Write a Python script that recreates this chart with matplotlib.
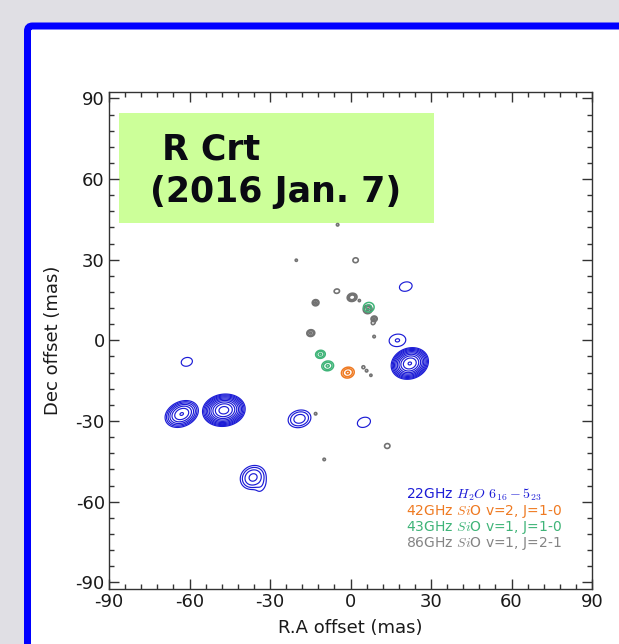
import numpy as np
import matplotlib
matplotlib.use("Agg")
import matplotlib.pyplot as plt
from matplotlib.patches import FancyBboxPatch, Rectangle

plt.rcParams["font.family"] = ["DejaVu Sans"]
plt.rcParams["mathtext.fontset"] = "cm"

# ---- maser spot components (offsets in mas, Gaussian widths in mas, PA in deg,
#      peak in units of the lowest contour level) ----
# 22 GHz H2O 6(16)-5(23)
h2o_x = [-62.9, -47.2, -36.3, -33.2, -19.0, 5.0, -61.0, 20.6, 17.5, 22.1]
h2o_y = [-27.4, -26.0, -51.0, -54.6, -29.2, -30.5, -8.0, 20.0, 0.0, -8.6]
h2o_sx = [2.24, 2.20, 2.30, 2.00, 2.24, 2.58, 2.17, 2.47, 2.55, 2.00]
h2o_sy = [1.59, 1.65, 2.00, 1.20, 1.67, 1.86, 1.65, 1.75, 1.89, 1.61]
h2o_pa = [25, 8, 30, 60, 15, 20, 15, 15, 8, 20]
h2o_peak = [67, 720, 10, 1.2, 6.3, 1.6, 1.6, 1.6, 2.1, 540]
h2o_group = [0, 1, 2, 2, 3, 4, 5, 6, 7, 8]

# 42 GHz SiO v=2, J=1-0
sio42_x = [-1.0]
sio42_y = [-12.0]
sio42_sx = [1.40]
sio42_sy = [1.16]
sio42_pa = [15]
sio42_peak = [4.4]

# 43 GHz SiO v=1, J=1-0
sio43_x = [-11.2, -8.5, 6.8]
sio43_y = [-5.2, -9.5, 12.3]
sio43_sx = [1.05, 1.28, 1.48]
sio43_sy = [0.87, 1.05, 1.33]
sio43_pa = [10, 10, 10]
sio43_peak = [4.4, 4.4, 2.5]

# 86 GHz SiO v=1, J=2-1
sio86_x = [-4.8, -20.2, 1.9, -5.1, 0.6, 3.3, -13.0, 6.4, 8.8, 8.5,
           -14.8, 8.8, 4.8, 6.0, 7.6, -13.0, 13.7, -9.8]
sio86_y = [43.0, 29.8, 29.8, 18.3, 16.0, 14.8, 14.0, 11.5, 8.0, 6.7,
           2.7, 1.4, -10.0, -11.3, -13.0, -27.3, -39.3, -44.3]
sio86_sx = [0.50, 0.45, 1.11, 1.11, 0.90, 0.45, 0.72, 0.95, 0.66, 1.00,
            0.85, 0.50, 0.60, 0.50, 0.45, 0.50, 0.85, 0.50]
sio86_sy = [0.50, 0.45, 1.00, 0.89, 0.74, 0.45, 0.66, 0.90, 0.60, 0.78,
            0.72, 0.50, 0.60, 0.50, 0.45, 0.50, 0.76, 0.50]
sio86_pa = [0, 0, 10, 10, 15, 0, 10, 10, 10, 60, 10, 0, 0, 0, 0, 0, 10, 0]
sio86_peak = [1.5, 1.5, 1.5, 1.5, 8.0, 1.5, 4.5, 4.5, 4.5, 1.5,
              4.5, 1.5, 1.5, 1.5, 1.5, 1.5, 2.0, 1.5]

legend_lines = [
    ("22GHz $H_2O$ $6_{16}-5_{23}$", "#1c1cd6"),
    ("42GHz $Si$O v=2, J=1-0", "#ef7a22"),
    ("43GHz $Si$O v=1, J=1-0", "#3fb478"),
    ("86GHz $Si$O v=1, J=2-1", "#848484"),
]
ticks = [-90, -60, -30, 0, 30, 60, 90]
title_lines = ["R Crt", "(2016 Jan. 7)"]


def draw_spots(ax, xs, ys, sxs, sys_, pas, peaks, color, lw, groups=None):
    """Contour each spot (or group of blended components) at doubling levels."""
    if groups is None:
        groups = list(range(len(xs)))
    for g in sorted(set(groups)):
        idx = [i for i, gg in enumerate(groups) if gg == g]
        reach = [4.0 * max(sxs[i], sys_[i]) + 0.5 for i in idx]
        x0 = min(xs[i] - r for i, r in zip(idx, reach))
        x1 = max(xs[i] + r for i, r in zip(idx, reach))
        y0 = min(ys[i] - r for i, r in zip(idx, reach))
        y1 = max(ys[i] + r for i, r in zip(idx, reach))
        gx, gy = np.meshgrid(np.linspace(x0, x1, 260), np.linspace(y0, y1, 260))
        field = np.zeros_like(gx)
        for i in idx:
            t = np.deg2rad(pas[i])
            dx, dy = gx - xs[i], gy - ys[i]
            u = dx * np.cos(t) + dy * np.sin(t)
            v = -dx * np.sin(t) + dy * np.cos(t)
            field += peaks[i] * np.exp(-0.5 * ((u / sxs[i]) ** 2 + (v / sys_[i]) ** 2))
        top = field.max()
        if top <= 1.0:
            continue
        nlev = int(np.floor(np.log2(top))) + 1
        levels = 2.0 ** np.arange(nlev)
        ax.contour(gx, gy, field, levels=levels, colors=color,
                   linewidths=lw, zorder=3)


W, H, DPI = 619, 644, 100
fig = plt.figure(figsize=(W / DPI, H / DPI), dpi=DPI)
fig.patch.set_facecolor("#e0dfe4")

# blue framed panel
frame = FancyBboxPatch((27.5, -60), 720, 618 + 60, boxstyle="round,pad=0,rounding_size=5",
                       transform=None, facecolor="white", edgecolor="#0000ff",
                       linewidth=7 * 72 / DPI, zorder=-10)
fig.patches.append(frame)

ax = fig.add_axes([109 / W, 1 - 589 / H, 483 / W, 497.3 / H])
ax.set_zorder(5)
ax.set_facecolor("white")
ax.set_xlim(-90, 90)
ax.set_ylim(-92.5, 92.5)

# title box
ax.add_patch(Rectangle((0.0207, 0.7366), 0.652, 0.2212, transform=ax.transAxes,
                       facecolor="#ccff99", edgecolor="none", zorder=1))
ax.text(0.109, 0.8627, title_lines[0], transform=ax.transAxes, fontsize=25,
        fontweight="bold", color="#0a0a12", ha="left", va="baseline", zorder=2)
ax.text(0.085, 0.7788, title_lines[1], transform=ax.transAxes, fontsize=25,
        fontweight="bold", color="#0a0a12", ha="left", va="baseline", zorder=2)

draw_spots(ax, h2o_x, h2o_y, h2o_sx, h2o_sy, h2o_pa, h2o_peak,
           legend_lines[0][1], 0.85, h2o_group)
draw_spots(ax, sio86_x, sio86_y, sio86_sx, sio86_sy, sio86_pa, sio86_peak,
           "#727272", 1.2)
draw_spots(ax, sio43_x, sio43_y, sio43_sx, sio43_sy, sio43_pa, sio43_peak,
           legend_lines[2][1], 1.1)
draw_spots(ax, sio42_x, sio42_y, sio42_sx, sio42_sy, sio42_pa, sio42_peak,
           legend_lines[1][1], 1.1)

# line identifications
for k, (txt, col) in enumerate(legend_lines):
    ax.text(0.614, 0.189 - 0.0322 * k, txt, transform=ax.transAxes, fontsize=10,
            color=col, ha="left", va="center", zorder=4)

ax.set_xticks(ticks)
ax.set_yticks(ticks)
ax.set_xticks(np.arange(-90, 91, 6), minor=True)
ax.set_yticks(np.arange(-90, 91, 6), minor=True)
ax.set_xticklabels([str(t) for t in ticks])
ax.set_yticklabels([str(t) for t in ticks])
ax.tick_params(which="both", direction="in", top=True, right=True,
               color="#333333", width=1.0)
ax.tick_params(which="major", length=7, labelsize=13, labelcolor="#1a1a1a", pad=3)
ax.tick_params(which="minor", length=3.5)
for s in ax.spines.values():
    s.set_color("#333333")
    s.set_linewidth(1.0)

ax.set_xlabel("R.A offset (mas)", fontsize=13, color="#1a1a1a")
ax.set_ylabel("Dec offset (mas)", fontsize=13, color="#1a1a1a")
ax.xaxis.set_label_coords(0.5, -0.0785)
ax.yaxis.set_label_coords(-0.116, 0.5)
ax.xaxis.label.set_va("center")
ax.yaxis.label.set_va("center")

fig.savefig("out.png", dpi=DPI, facecolor=fig.get_facecolor())
